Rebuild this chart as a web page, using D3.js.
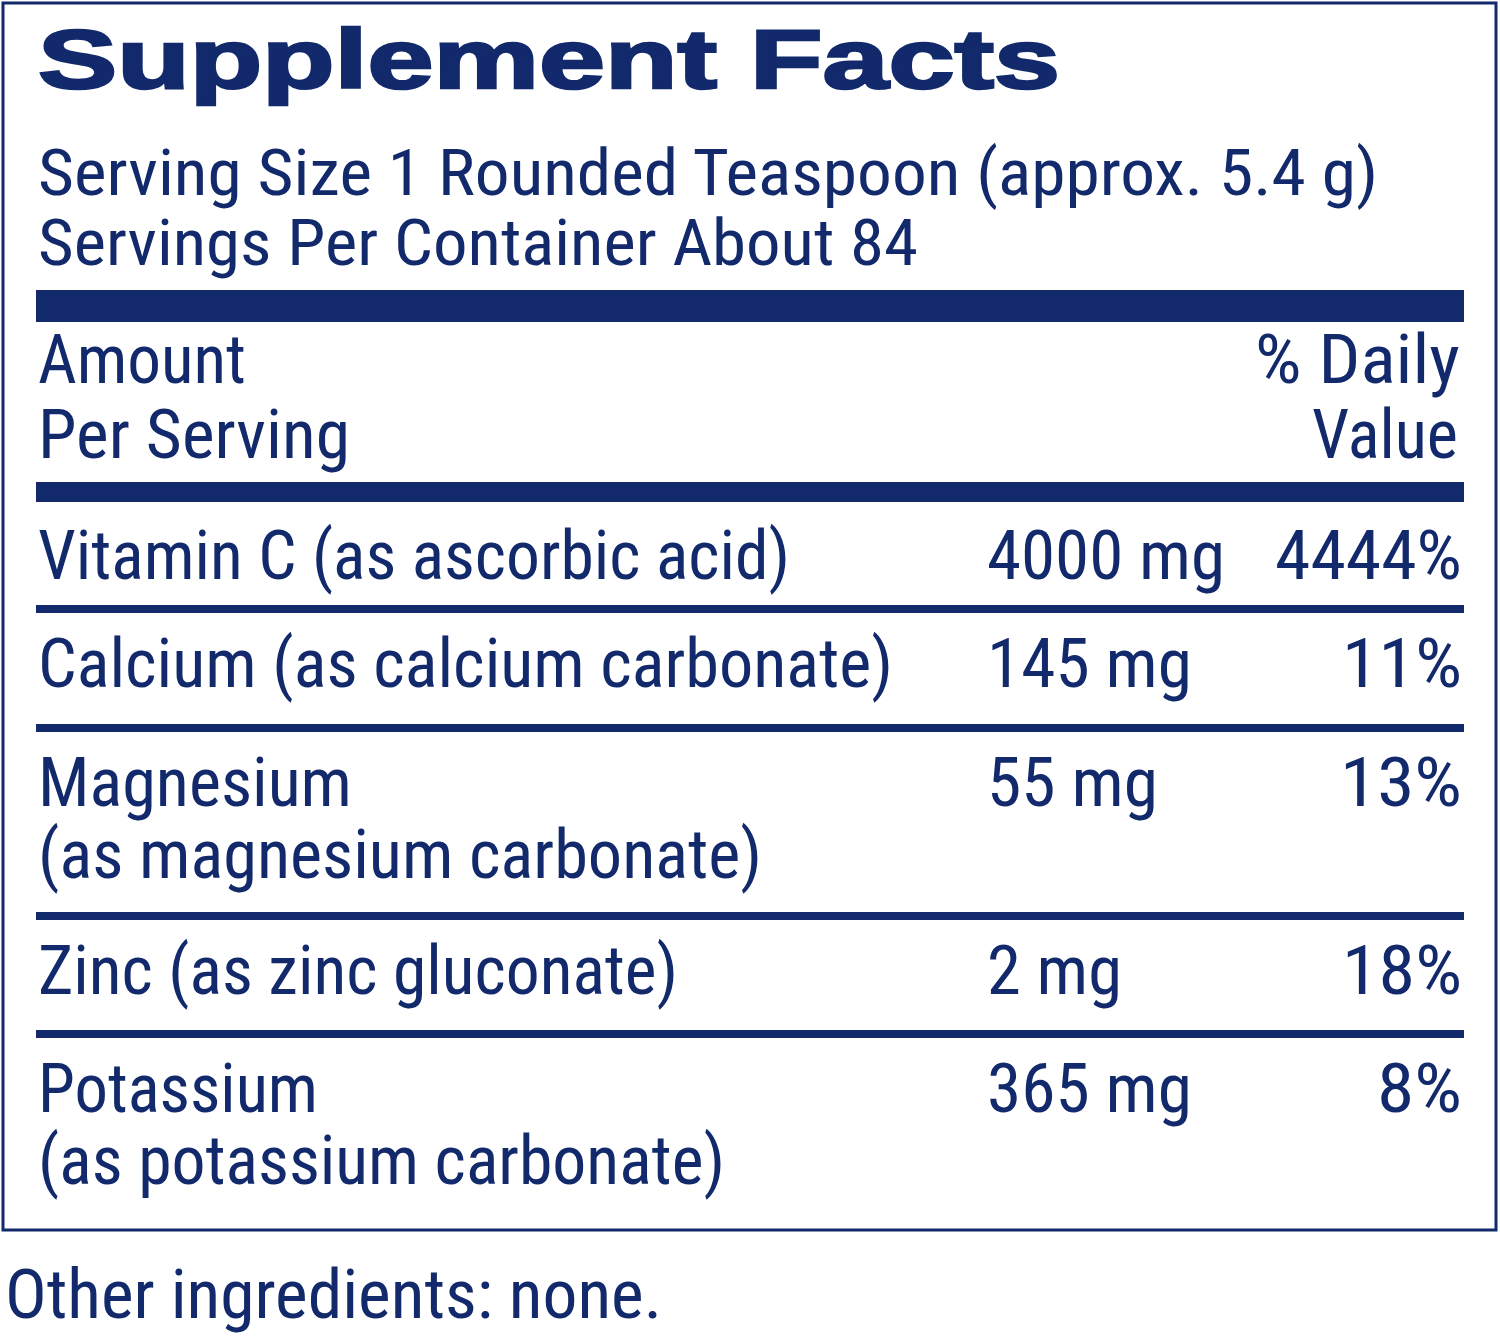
<!DOCTYPE html>
<html><head><meta charset="utf-8">
<script src="https://cdn.jsdelivr.net/npm/d3@7"></script>
<style>body{margin:0;background:#fff}</style></head>
<body><svg id="c" width="1500" height="1336"></svg>
<script>
const title = "Supplement Facts";
const servingLines = ["Serving Size 1 Rounded Teaspoon (approx. 5.4 g)", "Servings Per Container About 84"];
const nutrientLines = [["Vitamin C (as ascorbic acid)"],["Calcium (as calcium carbonate)"],["Magnesium","(as magnesium carbonate)"],["Zinc (as zinc gluconate)"],["Potassium","(as potassium carbonate)"]];
const amounts = ["4000 mg","145 mg","55 mg","2 mg","365 mg"];
const dailyValues = ["4444%","11%","13%","18%","8%"];
const otherText = "Other ingredients: none.";

const C = "#12296b";
const svg = d3.select("#c");
const F = "'Liberation Sans Narrow','Roboto Condensed','Liberation Sans',sans-serif";
function txt(s, x, y, w, opts={}) {
  const t = svg.append("text").attr("x", x).attr("y", y).text(s)
    .attr("fill", C).attr("font-family", opts.family||F).attr("font-size", opts.size||68)
    .attr("font-weight", opts.weight||"normal");
  if (w) t.attr("textLength", w).attr("lengthAdjust", "spacingAndGlyphs");
  return t;
}
svg.append("rect").attr("x",3).attr("y",3).attr("width",1493).attr("height",1227)
  .attr("fill","none").attr("stroke",C).attr("stroke-width",3);
txt(title, 38, 88, 1022, {size:84, weight:"900", family:"'Liberation Sans',Arial,sans-serif"})
  .attr("stroke",C).attr("stroke-width",2.5);
const servW = [1340, 880];
servingLines.forEach((s,i)=>txt(s, 38, 195+i*70, servW[i], {size:64}));
const bar=(y,h)=>svg.append("rect").attr("x",36).attr("y",y).attr("width",1428).attr("height",h).attr("fill",C);
bar(290,32);
txt("Amount",38,383,208); txt("Per Serving",38,458,312);
txt("% Daily",1255,383,205); txt("Value",1312,458,146);
bar(482,20);
const rowTop = [505, 613, 732, 920, 1038];
const nameW = {"Vitamin C (as ascorbic acid)":752,"Calcium (as calcium carbonate)":855,"Magnesium":314,"(as magnesium carbonate)":724,"Zinc (as zinc gluconate)":640,"Potassium":280,"(as potassium carbonate)":687};
const amtW = {"4000 mg":238,"145 mg":205,"55 mg":171,"2 mg":135,"365 mg":205};
const dvW = {"4444%":187,"11%":120,"13%":122,"18%":120,"8%":85};
const y = d3.scaleLinear().domain([0,1]).range([0,72]);
nutrientLines.forEach((lines,i)=>{
  const base = rowTop[i]+74;
  lines.forEach((l,j)=>txt(l,38,base+y(j),nameW[l]));
  txt(amounts[i],987,base,amtW[amounts[i]]);
  txt(dailyValues[i],1462-dvW[dailyValues[i]],base,dvW[dailyValues[i]]);
  if (i<nutrientLines.length-1) bar(rowTop[i+1]-8,8);
});
txt(otherText,5,1318,657);
</script></body></html>
